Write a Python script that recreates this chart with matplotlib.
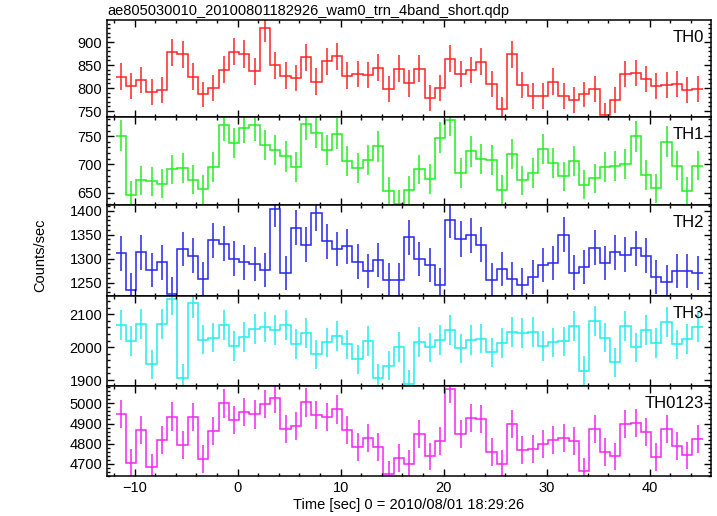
import numpy as np
import matplotlib
matplotlib.use("Agg")
import matplotlib.pyplot as plt
from matplotlib.ticker import MultipleLocator

# time axis: 1 s bins, centres in seconds from 2010/08/01 18:29:26
time = np.arange(-11.35, 45.0, 1.0)

th0 = [825, 804, 818, 792, 796, 878, 873, 825, 786, 800,
       840, 879, 874, 836, 931, 849, 827, 822, 867, 814,
       858, 869, 827, 830, 828, 844, 798, 842, 810, 842,
       778, 800, 864, 830, 839, 857, 809, 754, 873, 806,
       783, 783, 814, 783, 774, 786, 797, 741, 774, 830,
       833, 820, 805, 807, 809, 796, 798]

th1 = [751, 645, 672, 670, 666, 691, 693, 673, 656, 696,
       769, 738, 765, 769, 734, 725, 714, 695, 771, 756,
       725, 754, 706, 693, 707, 732, 652, 630, 654, 691,
       674, 747, 779, 685, 723, 709, 707, 655, 719, 672,
       685, 727, 702, 679, 706, 664, 675, 696, 697, 701,
       750, 681, 658, 740, 698, 652, 698]

th2 = [1311, 1235, 1313, 1276, 1292, 1226, 1320, 1306, 1257, 1338,
       1331, 1300, 1292, 1289, 1276, 1403, 1270, 1365, 1329, 1395,
       1336, 1320, 1326, 1294, 1274, 1297, 1255, 1256, 1345, 1299,
       1287, 1245, 1381, 1341, 1349, 1329, 1255, 1278, 1258, 1246,
       1261, 1287, 1291, 1350, 1271, 1283, 1323, 1291, 1313, 1308,
       1322, 1306, 1261, 1251, 1274, 1274, 1270]

th3 = [2067, 2019, 2070, 1948, 2070, 2145, 1905, 2135, 2023, 2029,
       2067, 2003, 2031, 2056, 2062, 2053, 2067, 2009, 2043, 1978,
       2014, 2033, 2008, 1963, 2018, 1905, 1944, 2001, 1887, 2016,
       1999, 2021, 2051, 1996, 2021, 2026, 1984, 2013, 2046, 2043,
       2046, 2003, 2014, 2017, 2063, 1929, 2080, 2029, 1954, 2063,
       1999, 2051, 2012, 2077, 2008, 2025, 2060]

th0123 = [4947, 4703, 4866, 4683, 4818, 4934, 4792, 4932, 4723, 4861,
          5000, 4917, 4957, 4945, 4996, 5025, 4871, 4886, 5005, 4942,
          4932, 4970, 4866, 4782, 4827, 4782, 4648, 4728, 4698, 4848,
          4737, 4813, 5071, 4850, 4929, 4921, 4757, 4698, 4897, 4769,
          4774, 4798, 4818, 4827, 4812, 4663, 4871, 4759, 4737, 4897,
          4902, 4856, 4734, 4871, 4789, 4742, 4822]

names = ["TH0", "TH1", "TH2", "TH3", "TH0123"]
series = [th0, th1, th2, th3, th0123]
colors = ["#ff2424", "#22ee22", "#2626ee", "#22eeee", "#f424f4"]
ylims = [(737, 949), (628, 784), (1222, 1412), (1882, 2155), (4640, 5086)]
majors = [50, 50, 50, 100, 100]
minors = [10, 10, 10, 20, 20]

# panel edges in pixels (top of figure = 0)
W, H = 717, 516
left, right = 107, 711
edges_px = [19.5, 117, 205, 296, 386, 476]

plt.rcParams["font.family"] = ["Liberation Sans", "DejaVu Sans"]
plt.rcParams["font.size"] = 10.5

fig = plt.figure(figsize=(W / 100, H / 100), dpi=100)

bin_edges = np.append(time - 0.5, time[-1] + 0.5)

axes = []
for i in range(5):
    top, bot = edges_px[i], edges_px[i + 1]
    ax = fig.add_axes([left / W, 1 - bot / H, (right - left) / W, (bot - top) / H])
    rate = np.array(series[i], dtype=float)
    err = np.sqrt(rate)  # 1 s bins, Poisson errors
    ax.stairs(rate, bin_edges, color=colors[i], lw=1.1, baseline=None)
    ax.vlines(time, rate - err, rate + err, color=colors[i], lw=1.1)
    ax.set_xlim(-12.68, 45.96)
    ax.set_ylim(*ylims[i])
    ax.xaxis.set_major_locator(MultipleLocator(10))
    ax.xaxis.set_minor_locator(MultipleLocator(2))
    ax.yaxis.set_major_locator(MultipleLocator(majors[i]))
    ax.yaxis.set_minor_locator(MultipleLocator(minors[i]))
    ax.tick_params(which="both", direction="in", top=True, right=True,
                   width=1, labelsize=10.5)
    ax.tick_params(which="major", length=5)
    ax.tick_params(which="minor", length=2.5)
    for s in ax.spines.values():
        s.set_linewidth(1.1)
    if i < 4:
        ax.tick_params(labelbottom=False)
    ax.annotate(names[i], xy=(1, 1), xycoords="axes fraction",
                xytext=(-7, -10), textcoords="offset pixels",
                ha="right", va="top", fontsize=12)
    axes.append(ax)

axes[0].set_title("ae805030010_20100801182926_wam0_trn_4band_short.qdp",
                  loc="left", fontsize=10.5, pad=3)
axes[-1].set_xlabel("Time [sec] 0 = 2010/08/01 18:29:26", fontsize=10.5, labelpad=2)
fig.text(40 / W, 1 - 255 / H, "Counts/sec", rotation=90, ha="center",
         va="center", fontsize=10.5)

fig.savefig("out.png", dpi=100)
